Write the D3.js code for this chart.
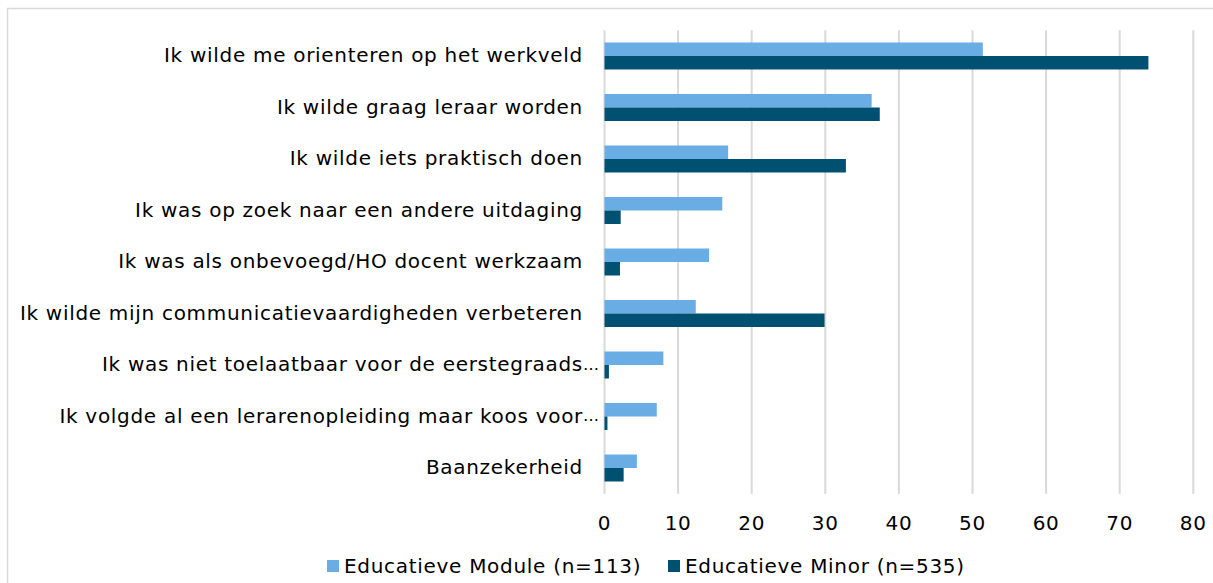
<!DOCTYPE html>
<html>
<head>
<meta charset="utf-8">
<script src="https://cdn.jsdelivr.net/npm/d3@7"></script>
<style>
  html, body { margin: 0; padding: 0; background: #fff; overflow: hidden; }
  svg { display: block; }
  text { font-family: "DejaVu Sans", Verdana, sans-serif; fill: #000; }
</style>
</head>
<body>
<svg id="chart" width="1213" height="583"></svg>
<script>
const categories = [
  "Ik wilde me orienteren op het werkveld",
  "Ik wilde graag leraar worden",
  "Ik wilde iets praktisch doen",
  "Ik was op zoek naar een andere uitdaging",
  "Ik was als onbevoegd/HO docent werkzaam",
  "Ik wilde mijn communicatievaardigheden verbeteren",
  "Ik was niet toelaatbaar voor de eerstegraads…",
  "Ik volgde al een lerarenopleiding maar koos voor…",
  "Baanzekerheid"
];
const seriesNames = ["Educatieve Module (n=113)", "Educatieve Minor (n=535)"];
const moduleValues = [51.4, 36.3, 16.8, 16.0, 14.2, 12.4, 8.0, 7.1, 4.4];
const minorValues  = [73.9, 37.4, 32.8, 2.2, 2.1, 29.9, 0.6, 0.4, 2.6];
const tickValues = [0, 10, 20, 30, 40, 50, 60, 70, 80];
const colors = ["#6AADE4", "#005072"];

const svg = d3.select("#chart");
const fontSize = 20;
const spacing = "0.7px";

// outer border (top and left visible)
svg.append("rect")
  .attr("x", 7.5).attr("y", 8.5)
  .attr("width", 1230).attr("height", 600)
  .attr("fill", "none").attr("stroke", "#d9d9d9").attr("stroke-width", 1.5);

const x = d3.scaleLinear().domain([0, 80]).range([604.5, 1193.3]);
const y0 = d3.scaleBand().domain(categories).range([30.25, 493.75])
  .paddingInner(0.476).paddingOuter(0.238);
const y1 = d3.scaleBand().domain([0, 1]).range([0, y0.bandwidth()]);

// gridlines
svg.append("g").selectAll("line").data(tickValues).join("line")
  .attr("x1", d => x(d)).attr("x2", d => x(d))
  .attr("y1", 30.25).attr("y2", 493.75)
  .attr("stroke", "#d9d9d9").attr("stroke-width", 2);

// bars
const rows = categories.map((c, i) => ({ c, vals: [moduleValues[i], minorValues[i]] }));
const g = svg.append("g").selectAll("g").data(rows).join("g")
  .attr("transform", d => `translate(0,${y0(d.c)})`);
g.selectAll("rect").data(d => d.vals.map((v, k) => ({ v, k }))).join("rect")
  .attr("x", x(0))
  .attr("y", d => y1(d.k))
  .attr("width", d => x(d.v) - x(0))
  .attr("height", y1.bandwidth())
  .attr("fill", d => colors[d.k]);

// category labels (a trailing ellipsis overhangs the label edge, as in the original)
const labelX = 583;
const lab = svg.append("g").selectAll("g").data(categories).join("g")
  .attr("transform", d => `translate(${labelX},${y0(d) + y0.bandwidth() / 2 - 1})`);
lab.append("text")
  .attr("text-anchor", "end")
  .attr("dominant-baseline", "central")
  .style("font-size", fontSize + "px")
  .style("letter-spacing", spacing)
  .text(d => d.endsWith("…") ? d.slice(0, -1) : d);
lab.filter(d => d.endsWith("…")).append("text")
  .attr("x", 0)
  .attr("text-anchor", "start")
  .attr("dominant-baseline", "central")
  .style("font-size", (fontSize * 0.8) + "px")
  .text("…");

// tick labels
svg.append("g").selectAll("text").data(tickValues).join("text")
  .attr("x", d => x(d))
  .attr("y", 523)
  .attr("text-anchor", "middle")
  .attr("dominant-baseline", "central")
  .style("font-size", fontSize + "px")
  .style("letter-spacing", spacing)
  .text(d => d);

// legend
const legendX = [327, 668];
const lg = svg.append("g").selectAll("g").data(seriesNames).join("g")
  .attr("transform", (d, i) => `translate(${legendX[i]},560)`);
lg.append("rect").attr("width", 12).attr("height", 12).attr("fill", (d, i) => colors[i]);
lg.append("text").attr("x", 17).attr("y", 13)
  .style("font-size", fontSize + "px")
  .style("letter-spacing", spacing)
  .text(d => d);
</script>
</body>
</html>
